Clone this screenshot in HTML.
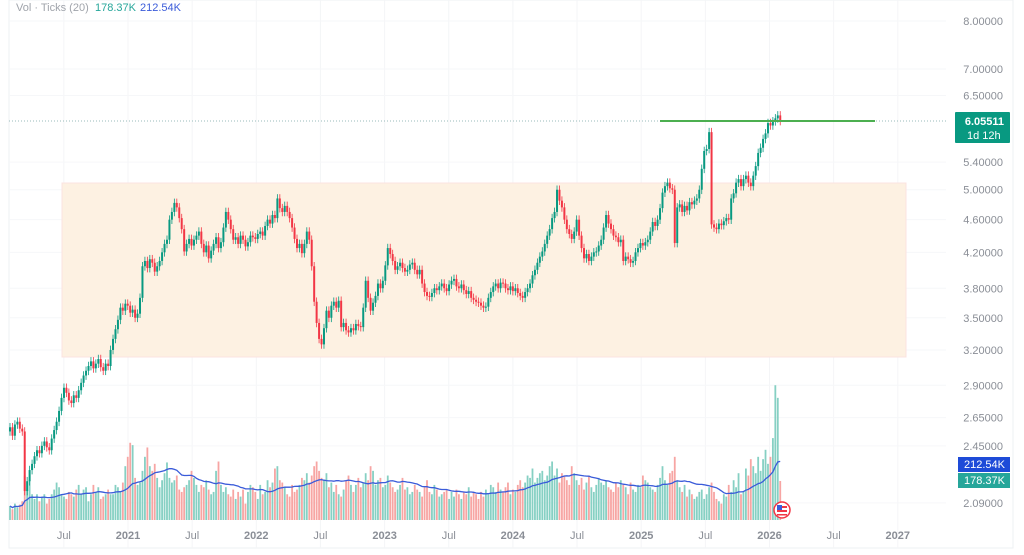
<!DOCTYPE html>
<html><head><meta charset="utf-8"><style>
html,body{margin:0;padding:0;background:#fff;}
svg{display:block;font-family:"Liberation Sans",sans-serif;}
</style></head><body>
<svg id="chart" width="1024" height="555" viewBox="0 0 1024 555">
<rect x="0" y="0" width="1024" height="555" fill="#fff"/>
<rect x="9" y="0" width="1004" height="548" fill="none" stroke="#eef0f3" stroke-width="1"/>
<g id="grid"></g>
<rect x="62" y="183" width="844" height="174" fill="#fdf1e2" stroke="#fbe3e0" stroke-width="1"/>
<line x1="9" y1="121" x2="946" y2="121" stroke="#9bb" stroke-width="1" stroke-dasharray="1,2"/>
<g id="vol"></g>
<polyline id="volma" fill="none" stroke="#3a5bd9" stroke-width="1.3"/>
<g id="candles"></g>
<line x1="660" y1="121" x2="875" y2="121" stroke="#4caf50" stroke-width="2"/>
<g id="yaxis"></g>
<g id="xaxis"></g>
<g>
<rect x="955" y="112" width="55" height="31" rx="1" fill="#089981"/>
<text x="1004" y="125" fill="#fff" font-size="11" font-weight="bold" text-anchor="end">6.05511</text>
<text x="967" y="139" fill="#fff" font-size="11">1d 12h</text>
</g>
<g>
<rect x="958" y="457" width="52" height="15" fill="#1e4bd8"/>
<text x="1005" y="468" fill="#fff" font-size="11" text-anchor="end">212.54K</text>
</g>
<g>
<rect x="958" y="473" width="52" height="15" fill="#26a69a"/>
<text x="1005" y="484" fill="#fff" font-size="11" text-anchor="end">178.37K</text>
</g>
<g>
<text x="16" y="11" font-size="11" fill="#a0a4ab">Vol · Ticks (20)</text>
<text x="95" y="11" font-size="11" fill="#26a69a">178.37K</text>
<text x="140" y="11" font-size="11" fill="#3a5bd9">212.54K</text>
</g>
<g>
<circle cx="782" cy="510" r="8" fill="#fff" stroke="#f23645" stroke-width="1.5"/>
<rect x="777" y="506" width="10" height="2" fill="#f23645"/>
<rect x="777" y="510" width="10" height="2" fill="#f23645"/>
<rect x="777" y="514" width="10" height="1.5" fill="#f23645"/>
<rect x="777" y="505" width="5" height="5" fill="#3a5bd9"/>
</g>
</svg>
<script>
const closes = [
2.58,2.52,2.60,2.62,2.57,2.55,2.16,2.22,2.29,2.33,
2.38,2.42,2.40,2.45,2.48,2.44,2.42,2.50,2.56,2.62,
2.70,2.80,2.88,2.84,2.78,2.76,2.82,2.80,2.86,2.92,
2.98,3.02,3.06,3.10,3.04,3.08,3.12,3.05,3.02,3.08,
3.06,3.20,3.30,3.39,3.48,3.60,3.57,3.64,3.62,3.55,
3.58,3.50,3.54,3.70,4.04,4.10,4.02,4.12,4.08,3.98,
4.04,4.10,4.20,4.30,4.35,4.60,4.70,4.82,4.76,4.62,
4.48,4.21,4.30,4.36,4.28,4.35,4.40,4.45,4.30,4.20,
4.28,4.13,4.22,4.30,4.38,4.25,4.32,4.50,4.70,4.60,
4.48,4.35,4.38,4.30,4.40,4.35,4.27,4.32,4.40,4.38,
4.36,4.42,4.45,4.40,4.52,4.60,4.55,4.66,4.62,4.88,
4.75,4.70,4.78,4.70,4.62,4.50,4.36,4.25,4.30,4.19,
4.30,4.45,4.35,4.04,3.66,3.45,3.30,3.25,3.40,3.57,
3.50,3.62,3.66,3.60,3.67,3.41,3.45,3.38,3.36,3.40,
3.38,3.44,3.42,3.41,3.60,3.88,3.70,3.57,3.65,3.72,
3.85,3.80,3.88,4.05,4.25,4.18,4.10,4.00,4.04,4.08,
4.02,3.98,4.00,4.06,4.08,4.00,3.95,4.00,3.85,3.76,
3.72,3.71,3.75,3.80,3.78,3.82,3.85,3.80,3.77,3.84,
3.88,3.90,3.82,3.80,3.84,3.78,3.74,3.77,3.70,3.68,
3.66,3.65,3.62,3.60,3.61,3.70,3.76,3.82,3.85,3.80,
3.86,3.85,3.80,3.78,3.82,3.77,3.80,3.75,3.72,3.70,
3.76,3.80,3.85,3.94,4.00,4.08,4.15,4.21,4.30,4.40,
4.48,4.62,4.70,5.00,4.85,4.76,4.60,4.48,4.42,4.36,
4.45,4.60,4.40,4.25,4.13,4.18,4.10,4.15,4.20,4.21,
4.28,4.35,4.50,4.66,4.55,4.48,4.40,4.38,4.32,4.35,
4.10,4.15,4.12,4.08,4.10,4.20,4.25,4.31,4.28,4.32,
4.35,4.45,4.57,4.52,4.60,4.75,4.96,5.05,5.10,5.02,
5.00,4.31,4.76,4.80,4.70,4.78,4.72,4.83,4.80,4.85,
4.88,5.00,5.30,5.57,5.60,5.87,4.54,4.50,4.48,4.55,
4.53,4.58,4.62,4.60,4.88,4.95,5.10,5.15,5.05,5.15,
5.20,5.10,5.05,5.20,5.34,5.54,5.62,5.76,5.85,6.02,
5.98,6.05,6.10,6.15,6.055
];
const firstOpen = 2.55;
const volumes = [
125,118,130,122,128,135,190,160,180,150,140,150,135,145,150,130,140,150,160,175,
165,150,145,140,155,150,145,160,170,150,160,165,135,150,170,155,165,140,145,150,
160,150,150,170,165,155,175,210,230,260,255,185,170,175,200,230,250,210,200,215,
185,165,180,195,218,185,175,180,190,160,155,165,170,180,200,185,170,155,170,165,
180,160,150,155,200,220,170,155,165,150,145,160,140,155,145,160,130,155,170,165,
155,140,170,150,155,180,165,175,205,210,180,175,165,150,145,170,155,160,170,185,
180,195,175,190,210,220,200,185,180,195,165,175,155,170,150,145,160,180,190,170,
155,170,185,165,175,195,180,210,200,170,180,185,165,170,190,175,165,155,160,170,
185,160,165,150,155,170,160,155,145,165,180,155,150,170,160,145,150,155,160,140,
155,145,160,150,140,155,150,165,145,155,150,140,155,145,160,150,170,165,155,175,
160,155,165,175,150,160,155,170,180,165,175,190,185,205,175,185,195,200,180,190,
210,220,190,205,175,195,190,180,170,210,195,180,170,185,160,175,190,165,155,170,
185,175,170,180,165,160,155,175,165,180,170,165,150,175,160,155,170,165,190,180,
175,165,160,155,170,185,210,180,170,195,200,230,180,165,155,170,145,160,150,140,
145,155,160,140,150,165,175,155,140,135,130,150,145,170,155,180,165,195,150,155,
205,190,225,210,195,230,200,225,245,215,230,270,383,356,178.37
];
const priceTicks = [8.0,7.0,6.5,5.4,5.0,4.6,4.2,3.8,3.5,3.2,2.9,2.65,2.45,2.09];
const timeLabels = ["Jul","2021","Jul","2022","Jul","2023","Jul","2024","Jul","2025","Jul","2026","Jul","2027"];
const timeValues = [2020.5,2021,2021.5,2022,2022.5,2023,2023.5,2024,2024.5,2025,2025.5,2026,2026.5,2027];
const maPeriod = 20;
const wickPct = 0.012;

const NS = "http://www.w3.org/2000/svg";
function yP(v){ return 21 + (Math.log(8) - Math.log(v)) * 359; }
function xT(t){ return 128 + (t - 2021) * 128.3; }
function xI(i){ return 10 + i * 2.453; }
const volBase = 520;
function yV(v){ return volBase - Math.max(1, (v - 95) * 0.468); }
function mk(tag, attrs, parent){ const e=document.createElementNS(NS,tag); for(const k in attrs) e.setAttribute(k,attrs[k]); parent.appendChild(e); return e; }

const grid=document.getElementById('grid');
timeValues.forEach(t=>{
  const g=mk('line',{x1:xT(t),x2:xT(t),y1:0,y2:548,stroke:'#f4f5f7','stroke-width':1},grid);
  
  
});
priceTicks.forEach(v=>{
  const g=mk('line',{x1:9,x2:946,y1:yP(v),y2:yP(v),stroke:'#f6f7f9','stroke-width':1},grid);
  
  
});

const vg=document.getElementById('vol');
const cg=document.getElementById('candles');
for(let i=0;i<closes.length;i++){
  const o = i===0 ? firstOpen : closes[i-1];
  const c = closes[i];
  const up = c >= o;
  const x = xI(i);
  const vb = mk('rect',{x:x-0.9,y:yV(volumes[i]),width:1.8,height:volBase-yV(volumes[i]),fill:up?'#86d0c3':'#f7a5a3'},vg);
  
  
  const hi=Math.max(o,c)*(1+wickPct), lo=Math.min(o,c)*(1-wickPct);
  const col= up?'#089981':'#f23645';
  const w=mk('line',{x1:x,x2:x,y1:yP(hi),y2:yP(lo),stroke:col,'stroke-width':0.8},cg);
  
  
  const top=yP(Math.max(o,c)), bot=yP(Math.min(o,c));
  const b=mk('rect',{x:x-1,y:top,width:2,height:Math.max(1,bot-top),fill:col},cg);
  
  
}
const pts=[];
for(let i=0;i<volumes.length;i++){
  const s=Math.max(0,i-maPeriod+1); let sum=0;
  for(let j=s;j<=i;j++) sum+=volumes[j];
  pts.push(xI(i).toFixed(1)+','+yV(sum/(i-s+1)).toFixed(1));
}
document.getElementById('volma').setAttribute('points',pts.join(' '));

const ya=document.getElementById('yaxis');
priceTicks.forEach(v=>{
  const t=mk('text',{x:1003,y:yP(v)+4,'font-size':11,fill:'#8a8e96','text-anchor':'end'},ya);
  t.textContent=v.toFixed(5);
  
  
});
const xa=document.getElementById('xaxis');
timeLabels.forEach((l,i)=>{
  const t=mk('text',{x:xT(timeValues[i]),y:539,'font-size':11,fill:'#8a8e96','text-anchor':'middle','font-weight':l==='Jul'?'normal':'bold'},xa);
  t.textContent=l;
  
  
});
</script>
</body></html>
